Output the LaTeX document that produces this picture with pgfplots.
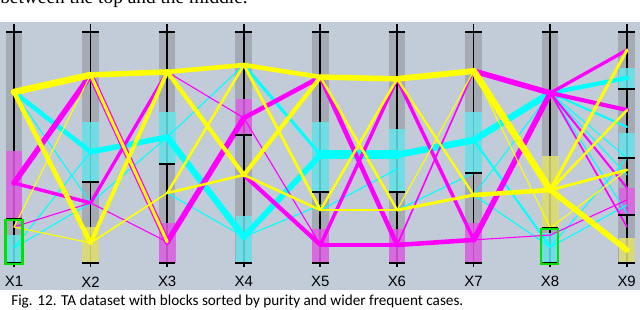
\documentclass[border=0pt]{standalone}
\usepackage{fontspec}
\usepackage{pgfplots}
\pgfplotsset{compat=1.18}
\setmainfont{Liberation Serif}
\newfontfamily\capfont{Carlito}
\newfontfamily\labfont{Liberation Sans}
\definecolor{panel}{RGB}{194,204,216}
\definecolor{bargray}{RGB}{164,171,180}
\definecolor{cy}{RGB}{0,255,255}
\definecolor{mg}{RGB}{255,0,255}
\definecolor{yl}{RGB}{255,255,0}
\definecolor{cyb}{RGB}{102,230,236}
\definecolor{mgb}{RGB}{222,96,228}
\definecolor{ylb}{RGB}{226,226,112}
\definecolor{grn}{RGB}{0,225,0}
\begin{document}
\begin{tikzpicture}
\useasboundingbox (0,0) rectangle (6.4in,3.1in);
\clip (0,0) rectangle (6.4in,3.1in);
\fill[white] (0,0) rectangle (6.4in,3.1in);
% pixel scope: background panel, bars, axis lines
\begin{scope}[x=0.01in,y=-0.01in,yshift=3.1in]
  \fill[panel] (0,22) rectangle (640,290);
  \foreach \i in {1,...,9} {
    \pgfmathsetmacro\xx{14+(\i-1)*76.625}
    \fill[bargray] (\xx-8.3,33) rectangle (\xx+8.3,263);
    \draw[black, line width=1.3pt] (\xx,24) -- (\xx,267);
  }
  \node[anchor=base west, inner sep=0, font=\fontsize{14}{16}\selectfont] at (0,4) {between the top and the middle.};
\end{scope}
\begin{axis}[at={(0,0)}, anchor=south west, scale only axis, width=6.4in, height=3.1in,
  xmin=0.8173, xmax=9.1697, ymin=-20.35, ymax=113.85, hide axis, clip=false, no markers,
  every axis plot/.append style={line cap=round, line join=round}]
% ---- blocks (axis value 0..100 from bottom to top) ----
\addplot[fill=mgb, draw=none, fill opacity=0.85] coordinates {(0.892,19.0)(1.108,19.0)(1.108,48.5)(0.892,48.5)} -- cycle;
\addplot[fill=cyb, draw=none, fill opacity=0.85] coordinates {(0.892,0)(1.108,0)(1.108,12.1)(0.892,12.1)} -- cycle;
\addplot[fill=cyb, draw=none, fill opacity=0.85] coordinates {(1.892,35.1)(2.108,35.1)(2.108,61.0)(1.892,61.0)} -- cycle;
\addplot[fill=ylb, draw=none, fill opacity=0.85] coordinates {(1.892,0)(2.108,0)(2.108,15.6)(1.892,15.6)} -- cycle;
\addplot[fill=cyb, draw=none, fill opacity=0.85] coordinates {(2.892,42.9)(3.108,42.9)(3.108,65.4)(2.892,65.4)} -- cycle;
\addplot[fill=mgb, draw=none, fill opacity=0.85] coordinates {(2.892,0)(3.108,0)(3.108,17.3)(2.892,17.3)} -- cycle;
\addplot[fill=mgb, draw=none, fill opacity=0.85] coordinates {(3.892,55.4)(4.108,55.4)(4.108,71.0)(3.892,71.0)} -- cycle;
\addplot[fill=cyb, draw=none, fill opacity=0.85] coordinates {(3.892,0)(4.108,0)(4.108,20.3)(3.892,20.3)} -- cycle;
\addplot[fill=cyb, draw=none, fill opacity=0.85] coordinates {(4.892,30.7)(5.108,30.7)(5.108,61.0)(4.892,61.0)} -- cycle;
\addplot[fill=mgb, draw=none, fill opacity=0.85] coordinates {(4.892,0)(5.108,0)(5.108,14.7)(4.892,14.7)} -- cycle;
\addplot[fill=cyb, draw=none, fill opacity=0.85] coordinates {(5.892,30.7)(6.108,30.7)(6.108,58.0)(5.892,58.0)} -- cycle;
\addplot[fill=mgb, draw=none, fill opacity=0.85] coordinates {(5.892,0)(6.108,0)(6.108,14.7)(5.892,14.7)} -- cycle;
\addplot[fill=cyb, draw=none, fill opacity=0.85] coordinates {(6.892,39.0)(7.108,39.0)(7.108,65.4)(6.892,65.4)} -- cycle;
\addplot[fill=mgb, draw=none, fill opacity=0.85] coordinates {(6.892,0)(7.108,0)(7.108,17.3)(6.892,17.3)} -- cycle;
\addplot[fill=ylb, draw=none, fill opacity=0.85] coordinates {(7.892,15.2)(8.108,15.2)(8.108,46.3)(7.892,46.3)} -- cycle;
\addplot[fill=cyb, draw=none, fill opacity=0.85] coordinates {(7.892,0)(8.108,0)(8.108,13.0)(7.892,13.0)} -- cycle;
\addplot[fill=cyb, draw=none, fill opacity=0.85] coordinates {(8.892,75.3)(9.108,75.3)(9.108,84.4)(8.892,84.4)} -- cycle;
\addplot[fill=cyb, draw=none, fill opacity=0.85] coordinates {(8.892,45.5)(9.108,45.5)(9.108,56.3)(8.892,56.3)} -- cycle;
\addplot[fill=mgb, draw=none, fill opacity=0.85] coordinates {(8.892,20.8)(9.108,20.8)(9.108,32.5)(8.892,32.5)} -- cycle;
\addplot[fill=ylb, draw=none, fill opacity=0.85] coordinates {(8.892,0)(9.108,0)(9.108,10.8)(8.892,10.8)} -- cycle;
% ---- cyan cases ----
\addplot[cy, line width=0.8pt] coordinates {(1,74.0)(2,26.0)};
\addplot[cy, line width=0.8pt] coordinates {(1,6.5)(2,26.0)};
\addplot[cy, line width=0.8pt] coordinates {(1,6.5)(2,48.1)};
\addplot[cy, line width=0.8pt] coordinates {(2,26.0)(3,54.5)};
\addplot[cy, line width=0.8pt] coordinates {(3,54.5)(4,85.7)};
\addplot[cy, line width=0.8pt] coordinates {(3,30.3)(4,11.3)};
\addplot[cy, line width=2.2pt] coordinates {(4,85.7)(5,46.8)};
\addplot[cy, line width=0.8pt] coordinates {(4,11.3)(5,25.1)};
\addplot[cy, line width=0.8pt] coordinates {(5,22.9)(6,40.7)};
\addplot[cy, line width=0.8pt] coordinates {(6,22.9)(7,39.0)};
\addplot[cy, line width=1.5pt] coordinates {(7,53.2)(8,6.9)};
\addplot[cy, line width=0.8pt] coordinates {(7,29.4)(8,73.6)};
\addplot[cy, line width=0.8pt] coordinates {(7,29.4)(8,6.9)};
\addplot[cy, line width=1.5pt] coordinates {(8,73.6)(9,58.9)};
\addplot[cy, line width=0.8pt] coordinates {(8,73.6)(9,45.5)};
\addplot[cy, line width=0.8pt] coordinates {(8,73.6)(9,38.1)};
\addplot[cy, line width=0.8pt] coordinates {(8,73.6)(9,21.6)};
\addplot[cy, line width=0.8pt] coordinates {(8,6.9)(9,25.1)};
\addplot[cy, line width=0.8pt] coordinates {(8,6.9)(9,45.5)};
\addplot[cy, line width=3.3pt] coordinates {(1,74.0)(2,48.1)};
\addplot[cy, line width=4.0pt] coordinates {(2,48.1)(3,54.5)};
\addplot[cy, line width=4.6pt] coordinates {(3,54.5)(4,11.3)};
\addplot[cy, line width=4.2pt] coordinates {(4,11.3)(5,46.8)};
\addplot[cy, line width=6.6pt] coordinates {(5,46.8)(6,46.8)};
\addplot[cy, line width=4.8pt] coordinates {(6,46.8)(7,53.2)};
\addplot[cy, line width=4.8pt] coordinates {(7,53.2)(8,73.6)};
\addplot[cy, line width=3.2pt] coordinates {(8,73.6)(9,80.1)};
% ---- magenta cases ----
\addplot[mg, line width=0.8pt] coordinates {(1,15.6)(2,26.0)};
\addplot[mg, line width=2.5pt] coordinates {(1,34.6)(2,26.0)};
\addplot[mg, line width=4.0pt] coordinates {(1,34.6)(2,81.4)};
\addplot[mg, line width=4.0pt] coordinates {(2,81.4)(3,9.1)};
\addplot[mg, line width=2.4pt] coordinates {(2,26.0)(3,82.7)};
\addplot[mg, line width=0.8pt] coordinates {(2,26.0)(3,9.1)};
\addplot[mg, line width=4.0pt] coordinates {(3,9.1)(4,62.8)};
\addplot[mg, line width=0.8pt] coordinates {(3,82.7)(4,62.8)};
\addplot[mg, line width=3.3pt] coordinates {(4,62.8)(5,80.5)};
\addplot[mg, line width=3.0pt] coordinates {(4,38.1)(5,7.8)};
\addplot[mg, line width=0.8pt] coordinates {(4,62.8)(5,7.8)};
\addplot[mg, line width=3.3pt] coordinates {(5,80.5)(6,7.8)};
\addplot[mg, line width=2.5pt] coordinates {(5,7.8)(6,79.7)};
\addplot[mg, line width=2.8pt] coordinates {(5,7.8)(6,7.8)};
\addplot[mg, line width=2.5pt] coordinates {(6,79.7)(7,10.0)};
\addplot[mg, line width=3.3pt] coordinates {(6,7.8)(7,10.0)};
\addplot[mg, line width=1.2pt] coordinates {(6,7.8)(7,83.1)};
\addplot[mg, line width=4.0pt] coordinates {(7,83.1)(8,73.6)};
\addplot[mg, line width=4.0pt] coordinates {(7,10.0)(8,73.6)};
\addplot[mg, line width=0.8pt] coordinates {(7,10.0)(8,12.1)};
\addplot[mg, line width=3.0pt] coordinates {(8,73.6)(9,66.2)};
\addplot[mg, line width=2.4pt] coordinates {(8,73.6)(9,92.2)};
\addplot[mg, line width=1.5pt] coordinates {(8,73.6)(9,32.5)};
\addplot[mg, line width=1.2pt] coordinates {(8,73.6)(9,15.6)};
\addplot[mg, line width=0.8pt] coordinates {(8,12.1)(9,27.3)};
% ---- yellow cases ----
\addplot[yl, line width=0.8pt] coordinates {(1,15.6)(2,81.4)};
\addplot[yl, line width=0.8pt] coordinates {(1,15.6)(2,8.7)};
\addplot[yl, line width=3.3pt] coordinates {(1,74.0)(2,8.7)};
\addplot[yl, line width=4.8pt] coordinates {(1,74.0)(2,81.4)};
\addplot[yl, line width=2.2pt] coordinates {(2,81.4)(3,9.1)};
\addplot[yl, line width=2.8pt] coordinates {(2,8.7)(3,82.7)};
\addplot[yl, line width=1.2pt] coordinates {(2,8.7)(3,30.3)};
\addplot[yl, line width=4.0pt] coordinates {(2,81.4)(3,82.7)};
\addplot[yl, line width=3.0pt] coordinates {(3,82.7)(4,38.1)};
\addplot[yl, line width=1.8pt] coordinates {(3,30.3)(4,85.7)};
\addplot[yl, line width=1.8pt] coordinates {(3,30.3)(4,38.1)};
\addplot[yl, line width=3.3pt] coordinates {(3,82.7)(4,85.7)};
\addplot[yl, line width=2.0pt] coordinates {(4,85.7)(5,22.9)};
\addplot[yl, line width=3.0pt] coordinates {(4,38.1)(5,80.5)};
\addplot[yl, line width=1.8pt] coordinates {(4,38.1)(5,22.9)};
\addplot[yl, line width=3.3pt] coordinates {(4,85.7)(5,80.5)};
\addplot[yl, line width=1.8pt] coordinates {(5,80.5)(6,22.9)};
\addplot[yl, line width=1.8pt] coordinates {(5,22.9)(6,79.7)};
\addplot[yl, line width=1.6pt] coordinates {(5,22.9)(6,22.9)};
\addplot[yl, line width=4.0pt] coordinates {(5,80.5)(6,79.7)};
\addplot[yl, line width=2.2pt] coordinates {(6,22.9)(7,29.4)};
\addplot[yl, line width=1.6pt] coordinates {(6,79.7)(7,29.4)};
\addplot[yl, line width=0.8pt] coordinates {(6,22.9)(7,83.1)};
\addplot[yl, line width=4.3pt] coordinates {(6,79.7)(7,83.1)};
\addplot[yl, line width=0.8pt] coordinates {(7,83.1)(8,15.2)};
\addplot[yl, line width=3.3pt] coordinates {(7,29.4)(8,31.6)};
\addplot[yl, line width=4.8pt] coordinates {(7,83.1)(8,31.6)};
\addplot[yl, line width=2.2pt] coordinates {(8,31.6)(9,92.2)};
\addplot[yl, line width=2.0pt] coordinates {(8,31.6)(9,40.3)};
\addplot[yl, line width=0.8pt] coordinates {(8,15.2)(9,40.3)};
\addplot[yl, line width=1.8pt] coordinates {(8,31.6)(9,66.2)};
\addplot[yl, line width=4.0pt] coordinates {(8,31.6)(9,5.6)};
\end{axis}
% pixel scope: ticks, boxes, labels, caption
\begin{scope}[x=0.01in,y=-0.01in,yshift=3.1in]
  \foreach \i in {1,...,9} {
    \pgfmathsetmacro\xx{14+(\i-1)*76.625}
    \draw[black, line width=1.4pt] (\xx-8.3,32) -- (\xx+8.3,32);
    \draw[black, line width=1.4pt] (\xx-8.3,263) -- (\xx+8.3,263);
    \node[font=\labfont\fontsize{10.8}{12}\selectfont, inner sep=0] at (\xx,282) {X\i};
  }
  \foreach \xx/\yy in {14/219, 90.625/182, 167.25/164, 243.875/135, 320.5/192, 397.125/192, 473.75/173, 550.375/228, 627/89, 627/158, 627/215} {
    \draw[black, line width=1.4pt] (\xx-8.3,\yy) -- (\xx+8.3,\yy);
  }
  \draw[grn, line width=1.5pt] (5.5,220.5) rectangle (22.5,264.5);
  \draw[grn, line width=1.5pt] (541.5,229.5) rectangle (558.5,264.5);
  \node[anchor=base west, inner sep=0, font=\capfont\fontsize{11}{13}\selectfont] at (11,305.5) {Fig. 12. TA dataset with blocks sorted by purity and wider frequent cases.};
\end{scope}
\end{tikzpicture}
\end{document}
